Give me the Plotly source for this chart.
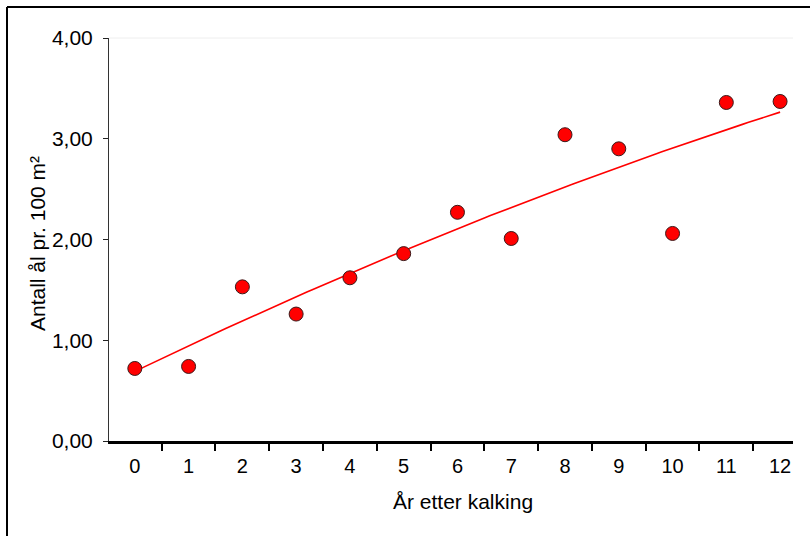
import numpy as np
import plotly.graph_objects as go

# Data
years = [0, 1, 2, 3, 4, 5, 6, 7, 8, 9, 10, 11, 12]
eel_density = [0.72, 0.74, 1.53, 1.26, 1.62, 1.86, 2.27, 2.01, 3.04, 2.90, 2.06, 3.36, 3.37]
y_tick_vals = [0, 1, 2, 3, 4]
y_tick_text = ["0,00", "1,00", "2,00", "3,00", "4,00"]
x_title = "År etter kalking"
y_title = "Antall ål pr. 100 m²"

# Second order polynomial trend line (as in the original spreadsheet chart)
coef = np.polyfit(years, eel_density, 2)
trend_x = np.linspace(min(years), max(years), 121)
trend_y = np.polyval(coef, trend_x)

FONT = "Liberation Sans, Arial, sans-serif"

# plot area in pixels
L, R, T, B = 109, 793, 38, 441
PW, PH = R - L, B - T

def px(x):
    return (x - L) / PW

def py(y):
    return (B - y) / PH

fig = go.Figure()
fig.add_trace(go.Scatter(
    x=trend_x, y=trend_y, mode="lines",
    line=dict(color="#ff0000", width=1.6),
    hoverinfo="skip", showlegend=False,
))
fig.add_trace(go.Scatter(
    x=years, y=eel_density, mode="markers",
    marker=dict(size=14, color="#ff0000", line=dict(color="#3a1a1a", width=1)),
    showlegend=False,
))

fig.update_layout(
    width=810, height=536,
    margin=dict(l=L, r=810 - R, t=T, b=536 - B, autoexpand=False),
    paper_bgcolor="white", plot_bgcolor="white",
    font=dict(family=FONT, color="black", size=20),
    xaxis=dict(
        range=[-0.48, 12.24], tickvals=years, ticks="",
        showgrid=False, zeroline=False,
        showline=True, linecolor="black", linewidth=3,
        ticklabelstandoff=5, tickfont=dict(size=20),
        minor=dict(ticks="outside", tick0=-0.5, dtick=1, ticklen=7,
                   tickwidth=2, tickcolor="black", showgrid=False),
        automargin=False,
    ),
    yaxis=dict(
        range=[0, 4.0], tickvals=y_tick_vals, ticktext=y_tick_text,
        ticks="outside", ticklen=5, tickwidth=1, tickcolor="#222",
        showgrid=False, zeroline=False,
        showline=True, linecolor="#333", linewidth=1,
        ticklabelstandoff=6, tickfont=dict(size=21),
        automargin=False,
    ),
    annotations=[
        dict(text=x_title, xref="paper", yref="paper", x=px(462.5), y=py(501),
             xanchor="center", yanchor="middle", showarrow=False,
             font=dict(size=21)),
        dict(text=y_title, xref="paper", yref="paper", x=px(38), y=py(244),
             xanchor="center", yanchor="middle", showarrow=False, textangle=-90,
             font=dict(size=21)),
    ],
    shapes=[
        # outer chart frame (top and left edges)
        dict(type="line", xref="paper", yref="paper",
             x0=px(7), x1=px(812), y0=py(7), y1=py(7),
             line=dict(color="black", width=2)),
        dict(type="line", xref="paper", yref="paper",
             x0=px(7), x1=px(7), y0=py(7), y1=py(540),
             line=dict(color="black", width=2)),
        # faint plot area top edge
        dict(type="line", xref="paper", yref="paper",
             x0=0, x1=1, y0=1, y1=1, line=dict(color="#eeeeee", width=1)),
    ],
)

fig.write_html("out.html", config={"displayModeBar": False},
               post_script="document.body.style.margin='0px';")
